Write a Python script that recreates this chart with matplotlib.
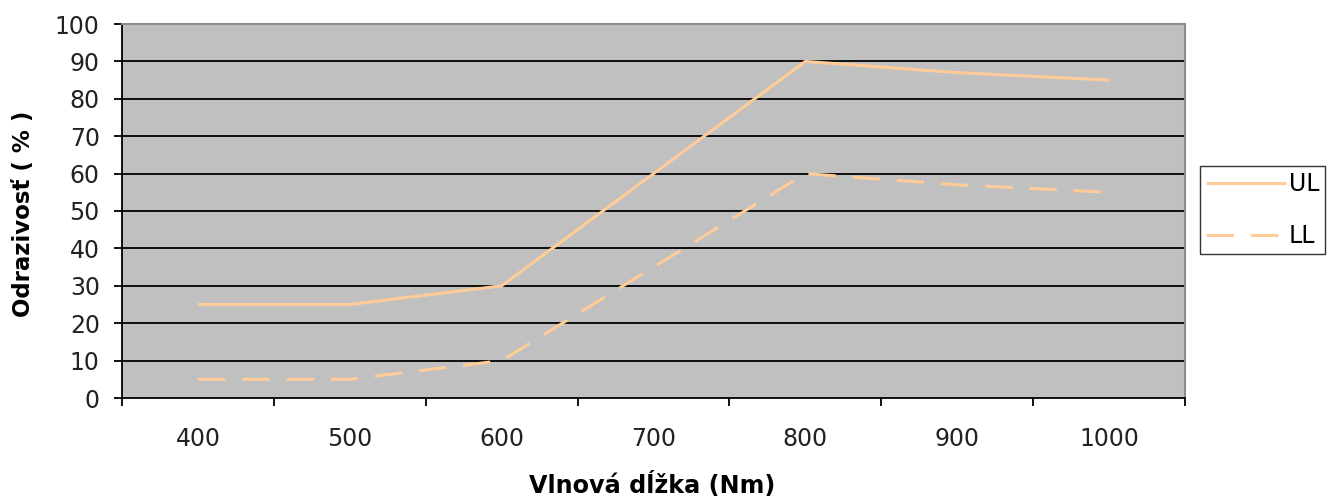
import matplotlib
matplotlib.use("Agg")
import matplotlib.pyplot as plt
import numpy as np

categories = ["400", "500", "600", "700", "800", "900", "1000"]
ul = [25, 25, 30, 60, 90, 87, 85]
ll = [5, 5, 10, 35, 60, 57, 55]
yticks = list(range(0, 101, 10))

plt.rcParams['font.family'] = ['DejaVu Sans']

fig = plt.figure(figsize=(13.33, 4.99), dpi=100)
ax = fig.add_axes([122/1333, 101/499, (1185-122)/1333, (398-24)/499])
ax.set_facecolor('#C0C0C0')

x = np.arange(len(categories))
color = '#FFCC99'
ax.plot(x, ul, color=color, lw=2.2, label='UL', solid_capstyle='butt', zorder=3)
ax.plot(x, ll, color=color, lw=2.2, label='LL', linestyle=(0, (9, 5.5)),
        dash_capstyle='butt', zorder=3)

ax.set_xlim(-0.5, len(categories) - 0.5)
ax.set_ylim(0, 100)
ax.set_yticks(yticks)
ax.set_yticklabels([str(v) for v in yticks], fontsize=17, color='#222222')
for v in yticks[1:-1]:
    ax.axhline(v, color='black', lw=1.3, zorder=1)

ax.set_xticks(np.arange(len(categories) + 1) - 0.5)
ax.set_xticklabels([])
ax.set_xticks(x, minor=True)
ax.set_xticklabels(categories, minor=True, fontsize=17, color='#222222')
ax.tick_params(axis='x', which='minor', length=0, pad=21)
ax.tick_params(axis='x', which='major', length=6, width=1.3, direction='out')
ax.tick_params(axis='y', length=6, width=1.3, direction='out', pad=10)

for s in ['top', 'right']:
    ax.spines[s].set_color('#8c8c8c')
    ax.spines[s].set_linewidth(1.5)
ax.spines['left'].set_linewidth(1.3)
ax.spines['bottom'].set_linewidth(1.3)

fig.text(652/1333, 6/499, 'Vlnová dĺžka (Nm)', fontsize=17.2, fontweight='bold',
         ha='center', va='baseline')
fig.text(24/1333, (499-214)/499, 'Odrazivosť ( % )', fontsize=16.5, fontweight='bold',
         ha='center', va='center', rotation=90)

leg = fig.legend(loc='upper left', bbox_to_anchor=(1200/1333, (499-166)/499),
                 fontsize=17, frameon=True, fancybox=False, edgecolor='black',
                 handlelength=3.4, handletextpad=0.1, labelspacing=1.2,
                 borderpad=0.25, borderaxespad=0)
leg.get_frame().set_linewidth(1.0)

fig.savefig('out.png', dpi=100)
